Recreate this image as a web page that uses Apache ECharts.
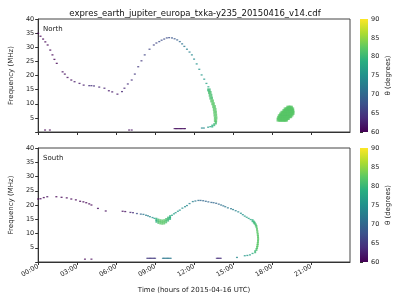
<!DOCTYPE html>
<html>
<head>
<meta charset="utf-8">
<script src="https://cdn.jsdelivr.net/npm/echarts@6/dist/echarts.min.js"></script>
<style>html,body{margin:0;padding:0;background:#fff}#c{width:400px;height:300px}</style>
</head>
<body>
<div id="c"></div>
<script>
// [hour, MHz, theta]
var northCurve = [
  [0.0,34.9,60],[0.18,33.9,60],[0.38,32.9,60],[0.55,31.9,60],[0.73,30.8,60],[0.93,29.0,60],[1.1,27.3,60],[1.25,25.7,60],[1.43,24.3,60],
  [1.88,21.3,61],[2.05,20.5,61],[2.26,19.3,61],[2.55,18.4,61],[2.8,17.8,62],[3.18,17.2,62],[3.5,16.6,62],[3.93,16.4,64],[4.1,16.4,64],[4.3,16.3,64],[4.7,15.9,63],[5.1,15.5,63],[5.44,14.6,62],[5.7,14.2,62],
  [6.1,13.4,62],[6.45,14.3,63],[6.64,15.5,63],[6.9,17.0,64],[7.2,18.4,64],[7.44,20.5,65],[7.7,23.1,65],[7.95,25.2,65],[8.2,27.3,66],[8.57,29.3,66],[8.9,30.8,66],[9.1,31.5,66],[9.32,32.0,67],[9.5,32.5,67],[9.7,32.9,67],[9.9,33.3,67],[10.08,33.4,67],[10.3,33.3,68],[10.5,33.0,68],[10.7,32.6,69],[10.9,32.0,70],[11.08,31.2,71],[11.25,30.3,72],[11.45,29.3,73],[11.65,28.3,73],[11.83,27.3,74],[12.0,25.8,74],[12.2,24.1,75],[12.4,22.2,75],[12.58,20.2,76],[12.78,18.7,76],[12.95,17.2,77],[13.1,16.0,78],
  [13.2,14.9,80],[13.08,14.9,80],[13.27,14.0,81],[13.15,14.0,81],[13.33,13.0,81],[13.2,13.0,81],[13.38,12.0,81],[13.25,12.0,81],[13.45,11.0,82],[13.32,11.0,82],[13.52,10.0,82],[13.4,10.0,82],[13.6,9.0,82],[13.47,9.0,82],[13.65,8.0,82],[13.52,8.0,82],[13.68,7.0,82],[13.55,7.0,82],[13.7,6.0,82],[13.57,6.0,82],[13.72,5.0,82],[13.6,5.0,82],[13.7,4.0,82],[13.6,4.0,82],[13.68,3.2,81],[13.55,2.6,80],[13.4,2.1,79],[13.25,1.9,78],[13.08,1.7,76],[12.75,1.4,74],[12.6,1.4,74]
];
var northLow = [
  [0.53,0.7,60],[0.9,0.7,60],[7.0,0.7,61],[7.2,0.7,61],
  [10.5,1.2,61],[10.6,1.2,61],[10.7,1.2,61],[10.8,1.2,61],[10.9,1.2,61],[11.0,1.2,61],[11.1,1.2,61],[11.2,1.2,61],[11.3,1.2,61]
];
var northBlob = [
  [19.25,8.6,82],[19.35,8.6,82],[19.45,8.6,82],
  [19.05,8.0,82],[19.15,8.0,82],[19.25,8.0,82],[19.35,8.0,82],[19.45,8.0,82],[19.55,8.0,82],
  [18.95,7.4,82],[19.05,7.4,82],[19.15,7.4,82],[19.25,7.4,82],[19.35,7.4,82],[19.45,7.4,82],[19.55,7.4,82],
  [18.8,6.8,82],[18.9,6.8,82],[19.0,6.8,82],[19.1,6.8,82],[19.2,6.8,82],[19.3,6.8,82],[19.4,6.8,82],[19.5,6.8,82],[19.58,6.8,82],
  [18.7,6.2,82],[18.8,6.2,82],[18.9,6.2,82],[19.0,6.2,82],[19.1,6.2,82],[19.2,6.2,82],[19.3,6.2,82],[19.4,6.2,82],[19.5,6.2,82],
  [18.6,5.6,82],[18.7,5.6,82],[18.8,5.6,82],[18.9,5.6,82],[19.0,5.6,82],[19.1,5.6,82],[19.2,5.6,82],[19.3,5.6,82],[19.4,5.6,82],
  [18.55,5.0,82],[18.65,5.0,82],[18.75,5.0,82],[18.85,5.0,82],[18.95,5.0,82],[19.05,5.0,82],[19.15,5.0,82],[19.22,5.0,82],
  [18.5,4.4,82],[18.6,4.4,82],[18.7,4.4,82],[18.8,4.4,82],[18.9,4.4,82],[19.0,4.4,82],[19.08,4.4,82]
];
var southCurve = [
  [0,22.1,60],[0.18,22.2,60],[0.43,22.6,60],[0.7,22.9,61],[1.4,22.9,60],[1.8,22.7,60],[2.2,22.5,60],[2.55,22.1,60],[2.9,21.8,60],[3.23,21.3,60],[3.48,21.1,60],[3.7,20.8,60],[3.93,20.4,60],[4.1,20.0,60],[4.6,18.8,61],[5.2,17.9,61],
  [6.5,17.8,61],[6.7,17.7,61],[7.1,17.4,63],[7.3,17.3,64],[7.6,17.0,67],[7.9,16.8,70],[8.1,16.7,72],[8.3,16.4,73],[8.45,16.2,73],[8.6,15.9,74],[8.8,15.6,75],[8.95,15.3,77],
  [9.1,15.0,79],[9.1,14.3,79],[9.25,14.7,81],[9.25,13.9,81],[9.4,14.5,82],[9.4,13.7,82],[9.55,14.4,82],[9.55,13.6,82],[9.7,14.5,82],[9.7,13.7,82],[9.85,14.9,81],[9.85,14.1,81],[10.0,15.4,80],[10.0,14.7,80],[10.15,15.9,79],[10.15,15.3,79],
  [10.3,16.4,77],[10.45,16.9,77],[10.58,17.3,76],[10.75,17.8,76],[10.9,18.2,75],[11.1,18.9,75],[11.3,19.4,74],[11.45,19.8,74],[11.65,20.5,73],[11.9,21.2,73],[12.1,21.4,72],[12.33,21.6,71],[12.5,21.6,70],[12.7,21.5,70],[12.9,21.3,70],[13.1,21.1,70],[13.33,20.9,70],[13.5,20.8,70],[13.7,20.6,70],[13.9,20.3,70],
  [14.08,20.0,71],[14.25,19.7,71],[14.4,19.4,72],[14.6,19.0,72],[14.84,18.7,72],[15.0,18.4,73],[15.2,18.0,73],[15.4,17.6,74],[15.6,17.1,75],[15.75,16.6,75],[15.9,16.1,76],[16.05,15.7,77],[16.2,15.3,77],[16.35,14.9,78],[16.5,14.5,79],[16.6,14.0,80],[16.67,13.6,80],[16.75,13.0,81],[16.8,12.4,81],
  [16.84,11.5,82],[16.87,10.6,82],[16.9,9.7,82],[16.92,8.9,82],[16.93,8.1,82],[16.92,7.3,82],[16.9,6.5,82],[16.88,5.8,82],[16.85,5.1,82],[16.8,4.4,81],[16.7,3.6,80],[16.5,3.0,78],[16.3,2.5,77],[16.1,2.3,76],[15.9,2.2,76],[15.3,1.6,74]
];
var southLow = [
  [3.6,1.0,60],[4.1,1.0,60],
  [8.4,1.3,65],[8.5,1.3,65],[8.6,1.3,65],[8.7,1.3,65],[8.8,1.3,65],[8.9,1.3,65],[9.0,1.3,65],
  [9.6,1.3,72],[9.7,1.3,72],[9.8,1.3,72],[9.9,1.3,72],[10.0,1.3,72],[10.1,1.3,72],[10.2,1.3,72],
  [13.75,1.3,64],[13.85,1.3,64],[13.95,1.3,64],[14.05,1.3,64]
];
var hourTicks = [0, 3, 6, 9, 12, 15, 18, 21];
var viridis = ['#440154','#472d7b','#3b528b','#2c728e','#21918c','#28ae80','#5ec962','#addc30','#fde725'];

var font = 'DejaVu Sans';
function hhmm(v) { return (v < 10 ? '0' : '') + v + ':00'; }

function timeAxis(idx, showLabels) {
  return {
    type: 'value', gridIndex: idx, min: 0, max: 24,
    axisLine: { lineStyle: { color: '#333' } },
    axisTick: { customValues: hourTicks, length: 3, lineStyle: { color: '#333' } },
    axisLabel: { show: showLabels, customValues: hourTicks, rotate: 30, fontSize: 6.5, color: '#222', fontFamily: font, formatter: hhmm, margin: 4 },
    splitLine: { show: false },
    name: showLabels ? 'Time (hours of 2015-04-16 UTC)' : '',
    nameLocation: 'middle', nameGap: 25,
    nameTextStyle: { fontSize: 7, color: '#222', fontFamily: font }
  };
}
function freqAxis(idx) {
  return {
    type: 'value', gridIndex: idx, min: 0, max: 40, interval: 5,
    axisLine: { show: true, lineStyle: { color: '#333' } },
    axisTick: { show: true, length: 3, lineStyle: { color: '#333' } },
    axisLabel: { fontSize: 6.5, color: '#222', fontFamily: font, margin: 4,
      formatter: function (v) { return v === 0 ? '' : v; } },
    splitLine: { show: false },
    name: 'Frequency (MHz)', nameLocation: 'middle', nameGap: 19,
    nameTextStyle: { fontSize: 7, color: '#222', fontFamily: font }
  };
}
function barX(idx) {
  return { type: 'value', gridIndex: idx, min: 0, max: 1, show: false };
}
function barY(idx) {
  return {
    type: 'value', gridIndex: idx, min: 60, max: 90, interval: 5, position: 'right',
    axisLine: { show: false },
    axisTick: { show: true, length: 3, lineStyle: { color: '#333' } },
    axisLabel: { fontSize: 6.5, color: '#222', fontFamily: font, margin: 3 },
    splitLine: { show: false },
    name: 'θ (degrees)', nameLocation: 'middle', nameGap: 17, nameRotate: 90,
    nameTextStyle: { fontSize: 7, color: '#222', fontFamily: font }
  };
}
// thin dashes, thicker where theta is high (dense emission)
function scatter(data, xi, size) {
  return {
    type: 'scatter', xAxisIndex: xi, yAxisIndex: xi, data: data,
    symbol: 'rect', silent: true, animation: false,
    symbolSize: typeof size === 'function' ? size : function () { return size; }
  };
}
function curveSize(v) { return v[2] >= 79 ? [2, 3] : [2, 1.3]; }
function colorbar(xi) {
  return {
    type: 'custom', xAxisIndex: xi, yAxisIndex: xi, data: [[0, 60, 1, 90]], silent: true, animation: false,
    renderItem: function (params, api) {
      var p0 = api.coord([api.value(0), api.value(1)]);
      var p1 = api.coord([api.value(2), api.value(3)]);
      var stops = viridis.map(function (c, i) { return { offset: i / (viridis.length - 1), color: c }; });
      return {
        type: 'rect',
        shape: { x: p0[0], y: p1[1], width: p1[0] - p0[0], height: p0[1] - p1[1] },
        style: { fill: new echarts.graphic.LinearGradient(0, 1, 0, 0, stops) }
      };
    }
  };
}

var chart = echarts.init(document.getElementById('c'), null, { renderer: 'canvas' });
chart.setOption({
  animation: false,
  title: {
    text: 'expres_earth_jupiter_europa_txka-y235_20150416_v14.cdf',
    left: 190, top: 4, textAlign: 'center',
    textStyle: { fontSize: 8.5, fontWeight: 'normal', color: '#111', fontFamily: font }
  },
  grid: [
    { left: 31, top: 19, width: 319, height: 113, show: true, borderColor: '#444', borderWidth: 1 },
    { left: 31, top: 148, width: 319, height: 114, show: true, borderColor: '#444', borderWidth: 1 },
    { left: 360, top: 19, width: 8, height: 113 },
    { left: 360, top: 148, width: 8, height: 114 }
  ],
  xAxis: [timeAxis(0, false), timeAxis(1, true), barX(2), barX(3)],
  yAxis: [freqAxis(0), freqAxis(1), barY(2), barY(3)],
  visualMap: {
    show: false, type: 'continuous', dimension: 2, min: 60, max: 90,
    seriesIndex: [0, 1, 2, 3, 4],
    inRange: { color: viridis }
  },
  graphic: [
    { type: 'text', left: 43, top: 26, style: { text: 'North', fontSize: 7, fill: '#222', fontFamily: font } },
    { type: 'text', left: 43, top: 155, style: { text: 'South', fontSize: 7, fill: '#222', fontFamily: font } }
  ],
  series: [
    scatter(northCurve, 0, curveSize),
    scatter(northLow, 0, [2, 1.2]),
    scatter(northBlob, 0, [4, 4]),
    scatter(southCurve, 1, curveSize),
    scatter(southLow, 1, [2, 1.2]),
    colorbar(2),
    colorbar(3)
  ]
});
</script>
</body>
</html>
